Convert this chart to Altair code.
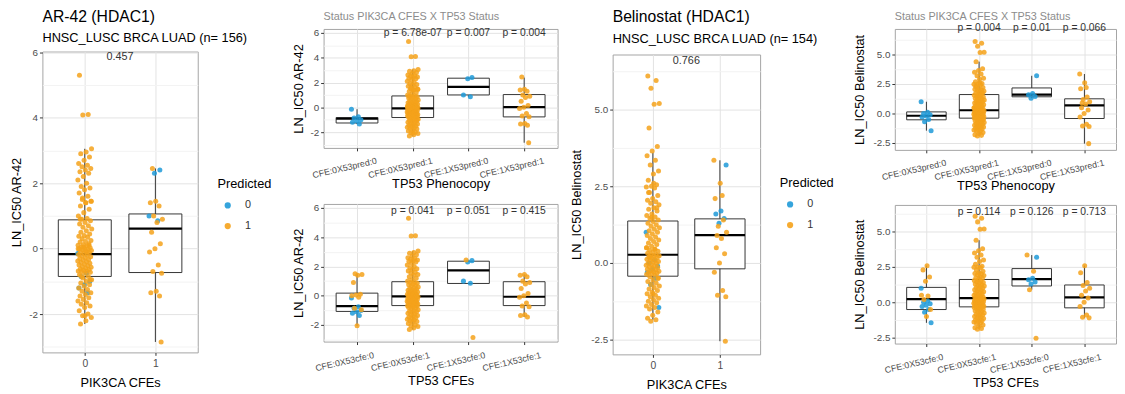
import json
import altair as alt
import pandas as pd

FONT = "Liberation Sans"
BLUE = "#1f9ad8"
ORANGE = "#f5a21b"

# ---------------- AR-42 LN_IC50 per sample, split by PIK3CA CFE / TP53 predicted / TP53 CFE
ar42_p0_pred0_cfe0 = [-0.15, -0.75, -0.85, -1.0, -1.1, -1.2, -1.35]
ar42_p0_pred1_cfe0 = [1.5, 1.45, 1.4, 0.9, 0.1, 0.05, 0.0, -0.1, -0.85, -0.95, -2.05]
ar42_p0_pred1_cfe1 = [
    5.3, 4.1, 4.08, 3.05, 2.95, 2.9, 2.8, 2.7, 2.6, 2.55, 2.5, 2.45, 2.4, 2.35, 2.3,
    2.2, 2.1, 2.0, 1.9, 1.85, 1.8, 1.7, 1.6, 1.55, 1.45, 1.4, 1.3, 1.2, 1.1, 1.0,
    0.92, 0.9, 0.85, 0.8, 0.75, 0.7, 0.65, 0.6, 0.55, 0.5, 0.45, 0.4, 0.38, 0.35,
    0.3, 0.25, 0.22, 0.2, 0.15, 0.12, 0.1, 0.08, 0.05, 0.03, 0.0, -0.01, -0.02, -0.04,
    -0.06, -0.08, -0.1, -0.12, -0.15, -0.18, -0.2, -0.22, -0.25, -0.28, -0.3, -0.33,
    -0.35, -0.38, -0.4, -0.42, -0.45, -0.48, -0.5, -0.52, -0.55, -0.57, -0.6, -0.62,
    -0.64, -0.66, -0.68, -0.69, -0.7,
    -0.72, -0.75, -0.8, -0.85, -0.9, -0.95, -1.0, -1.05, -1.1, -1.15, -1.2, -1.25,
    -1.3, -1.35, -1.4, -1.45, -1.5, -1.55, -1.6, -1.65, -1.7, -1.75, -1.8, -1.9,
    -2.0, -2.05, -2.1, -2.2, -2.3,
]
ar42_p1_pred0_cfe0 = [2.4, 2.3, 1.0, 0.85]
ar42_p1_pred1_cfe0 = [2.45, -2.85]
ar42_p1_pred1_cfe1 = [1.45, 1.4, 1.3, 1.0, 0.9, 0.8, 0.5, 0.15, 0.0, -0.1, -0.5,
                      -0.7, -0.75, -1.3, -1.35, -1.45]

# ---------------- Belinostat LN_IC50 per sample
bel_p0_pred0_cfe0 = [1.0, 0.1, 0.0, -0.1, -0.2, -0.3, -0.5, -0.7, -1.45]
bel_p0_pred1_cfe0 = [2.6, 2.3, 1.8, 1.5, 0.5, 0.45, 0.2, -0.5, -1.0]
bel_p0_pred1_cfe1 = [
    6.1, 5.95, 5.7, 5.2, 5.18, 4.4, 3.8, 3.65, 3.5, 3.35, 3.2, 3.0, 2.9, 2.7, 2.55,
    2.5, 2.48, 2.45, 2.3, 2.2, 2.1, 2.05, 2.0, 1.95, 1.9, 1.8, 1.75, 1.7,
    1.6, 1.55, 1.5, 1.45, 1.4, 1.35, 1.3, 1.25, 1.2, 1.15, 1.1, 1.05, 1.0, 0.95,
    0.9, 0.85, 0.8, 0.75, 0.7, 0.65, 0.6, 0.55, 0.5, 0.45, 0.42, 0.38, 0.35, 0.32,
    0.28, 0.26, 0.24, 0.22, 0.2, 0.18, 0.15, 0.12, 0.1, 0.08, 0.05, 0.03, 0.0,
    -0.02, -0.05, -0.07, -0.1, -0.12, -0.15, -0.17, -0.2, -0.22, -0.25, -0.27,
    -0.29, -0.31, -0.33, -0.34,
    -0.37, -0.4, -0.45, -0.5, -0.55, -0.6, -0.65, -0.7, -0.75, -0.8, -0.85, -0.9,
    -0.95, -1.0, -1.05, -1.1, -1.15, -1.2, -1.25, -1.3, -1.35, -1.4, -1.45, -1.5,
    -1.6, -1.7, -1.8, -1.85, -1.9,
]
bel_p1_pred0_cfe0 = [3.2, 1.7, 1.6, 1.45, 1.3]
bel_p1_pred1_cfe0 = [3.35, 2.2, 0.9, -2.55]
bel_p1_pred1_cfe1 = [2.6, 2.1, 1.4, 1.2, 1.0, 0.8, 0.5, 0.3, 0.0, -0.3, -0.9, -1.05, -1.1]

# ---------------- box statistics: [low whisker, q1, median, q3, high whisker]
ar42_box_pik = [[-2.3, -0.85, -0.17, 0.88, 3.05], [-2.85, -0.73, 0.61, 1.06, 2.45]]
ar42_box_pred = [[-1.35, -1.26, -0.92, -0.82, -0.15], [-2.3, -0.82, -0.08, 0.92, 3.05],
                 [0.85, 1.0, 1.65, 2.35, 2.4], [-2.85, -0.77, 0.02, 1.03, 2.4]]
ar42_box_cfe = [[-2.05, -1.07, -0.71, 0.18, 1.5], [-2.3, -0.67, -0.04, 0.96, 3.05],
                [0.85, 0.84, 1.73, 2.36, 2.4], [-1.45, -0.67, -0.07, 0.96, 1.45]]
bel_box_pik = [[-1.85, -0.43, 0.27, 1.37, 3.6], [-2.55, -0.19, 0.91, 1.44, 3.35]]
bel_box_pred = [[-1.45, -0.53, -0.19, 0.14, 1.0], [-1.9, -0.39, 0.28, 1.61, 4.4],
                [1.3, 1.42, 1.61, 2.17, 3.2], [-2.55, -0.42, 0.69, 1.25, 3.35]]
bel_box_cfe = [[-1.45, -0.51, 0.23, 1.06, 2.6], [-1.9, -0.32, 0.3, 1.62, 4.4],
               [0.9, 1.16, 1.64, 2.39, 3.35], [-1.1, -0.39, 0.35, 1.23, 2.6]]

# ---------------- labels
pik_labels = ["0", "1"]
pred_labels = ["CFE:0X53pred:0", "CFE:0X53pred:1", "CFE:1X53pred:0", "CFE:1X53pred:1"]
cfe_labels = ["CFE:0X53cfe:0", "CFE:0X53cfe:1", "CFE:1X53cfe:0", "CFE:1X53cfe:1"]
ar42_p_pik = ["0.457"]
ar42_p_pred = ["p = 6.78e-07", "p = 0.007", "p = 0.004"]
ar42_p_cfe = ["p = 0.041", "p = 0.051", "p = 0.415"]
bel_p_pik = ["0.766"]
bel_p_pred = ["p = 0.004", "p = 0.01", "p = 0.066"]
bel_p_cfe = ["p = 0.114", "p = 0.126", "p = 0.713"]


def samples(groups):
    rows = []
    for (p, pr, c), vals in groups:
        for v in vals:
            rows.append({"v": v, "pik": p, "pred": str(pr), "cfe": c})
    df = pd.DataFrame(rows)
    df["k"] = range(len(df))
    df["x_pik"] = df["pik"] + 1
    df["x_pred"] = df["pik"] * 2 + df["pred"].astype(int) + 1
    df["x_cfe"] = df["pik"] * 2 + df["cfe"] + 1
    return df


ar42 = samples([((0, 0, 0), ar42_p0_pred0_cfe0), ((0, 1, 0), ar42_p0_pred1_cfe0),
                ((0, 1, 1), ar42_p0_pred1_cfe1), ((1, 0, 0), ar42_p1_pred0_cfe0),
                ((1, 1, 0), ar42_p1_pred1_cfe0), ((1, 1, 1), ar42_p1_pred1_cfe1)])
bel = samples([((0, 0, 0), bel_p0_pred0_cfe0), ((0, 1, 0), bel_p0_pred1_cfe0),
               ((0, 1, 1), bel_p0_pred1_cfe1), ((1, 0, 0), bel_p1_pred0_cfe0),
               ((1, 1, 0), bel_p1_pred1_cfe0), ((1, 1, 1), bel_p1_pred1_cfe1)])

MAJ = "#e2e2e2"
MINR = "#f3f3f3"


def panel(df, xcol, labels, box, ydom, kind, ytitle, xtitle, w, h,
          notes, note_pos, note_y, title=None, legend_xy=None, xtitle_pad=None):
    n = len(labels)
    small = n > 2
    xscale = alt.Scale(domain=[0.4, n + 0.6], nice=False, zero=False)
    yscale = alt.Scale(domain=ydom, nice=False, zero=False)
    if kind == "ar":
        vals = [-3, -2, -1, 0, 1, 2, 3, 4, 5, 6]
        test = "datum.value % 2 == 0"
        lexpr = "datum.value % 2 == 0 ? toString(datum.value) : ''"
        tpad = 5
    else:
        vals = [-2.5, -1.25, 0, 1.25, 2.5, 3.75, 5, 6.25]
        test = "datum.value % 2.5 == 0"
        lexpr = ("datum.value % 2.5 == 0 ? replace(format(datum.value, '.1f'), '\u2212', '-') : ''")
        tpad = 7
    vals = [v for v in vals if ydom[0] <= v <= ydom[1]]
    yaxis = alt.Axis(values=vals, labelExpr=lexpr, title=ytitle, titleFontSize=13,
                     titleFontWeight="normal", titleColor="black", titlePadding=tpad,
                     labelFontSize=10, labelColor="#4d4d4d", labelPadding=2,
                     domain=False, tickSize=3, tickColor="#333333",
                     tickOpacity={"condition": {"test": test, "value": 1}, "value": 0},
                     gridColor={"condition": {"test": test, "value": MAJ}, "value": MINR},
                     labelOverlap=False)
    xkw = dict(values=list(range(1, n + 1)),
               labelExpr=json.dumps([""] + labels) + "[datum.value]",
               title=xtitle, titleFontSize=13, titleFontWeight="normal", titleColor="black",
               labelColor="#4d4d4d", domain=False, tickSize=3, tickColor="#333333",
               gridColor=MAJ, labelFlush=False, labelOverlap=False)
    if small:
        xkw.update(labelAngle=-13, labelAlign="center", labelBaseline="top",
                   labelOffset=-14, labelFontSize=9, labelPadding=13,
                   titlePadding=-2 if xtitle_pad is None else xtitle_pad)
    else:
        xkw.update(labelFontSize=10.5, labelPadding=3, titlePadding=8)
    xaxis = alt.Axis(**xkw)

    def X(f):
        return alt.X(f, scale=xscale, axis=xaxis)

    def Y(f):
        return alt.Y(f, scale=yscale, axis=yaxis)

    bdf = pd.DataFrame(box, columns=["lo", "q1", "med", "q3", "hi"])
    bdf["xi"] = range(1, n + 1)
    bb = alt.Chart(bdf).transform_calculate(xl="datum.xi - 0.375", xr="datum.xi + 0.375")
    whisk = bb.mark_rule(color="#333333", strokeWidth=1).encode(x=X("xi:Q"), y=Y("lo:Q"), y2="hi:Q")
    rect = bb.mark_rect(fill="white", stroke="#333333", strokeWidth=1).encode(
        x=X("xl:Q"), x2="xr:Q", y=Y("q1:Q"), y2="q3:Q")
    med = bb.mark_rule(color="black", strokeWidth=2.2).encode(x=X("xl:Q"), x2="xr:Q", y=Y("med:Q"))

    if legend_xy is not None:
        leg = alt.Legend(title="Predicted", orient="none", legendX=legend_xy[0],
                         legendY=legend_xy[1], titleFontSize=13, titleFontWeight="normal",
                         titleColor="black", titlePadding=9, labelFontSize=11,
                         labelColor="#333333", symbolType="circle", symbolSize=40,
                         symbolOffset=5, labelOffset=12, rowPadding=9,
                         symbolStrokeWidth=0, symbolOpacity=0.9)
    else:
        leg = None
    pts = alt.Chart(df).transform_calculate(
        xj=f"datum.{xcol} + ((datum.k * 0.618034) % 1 - 0.5) * 0.2"
    ).mark_circle(size=26, opacity=0.85).encode(
        x=X("xj:Q"), y=Y("v:Q"),
        color=alt.Color("pred:N", scale=alt.Scale(domain=["0", "1"], range=[BLUE, ORANGE]),
                        legend=leg))
    tdf = pd.DataFrame({"xi": note_pos, "label": notes})
    tdf["ty"] = note_y
    txt = alt.Chart(tdf).mark_text(fontSize=10.5 if small else 11, color="#333333",
                                   baseline="middle").encode(
        x=X("xi:Q"), y=Y("ty:Q"), text="label:N")
    ch = alt.layer(whisk, rect, med, pts, txt).properties(width=w, height=h)
    if title is not None:
        ch = ch.properties(title=title)
    return ch


def spacer():
    # invisible 1px element that sets the column origin level with the small panels
    return alt.Chart(pd.DataFrame({"a": [0]})).mark_point(opacity=0, size=1).encode(
        x=alt.value(0), y=alt.value(0)
    ).properties(width=1, height=1, view=alt.ViewBackground(strokeOpacity=0))


def big_title(t, s, off):
    return alt.Title(t, subtitle=s, anchor="start", frame="group", fontSize=16,
                     fontWeight="normal", color="black", subtitleFontSize=13,
                     subtitleColor="black", subtitlePadding=8, offset=off)


def small_title(off):
    return alt.Title("Status PIK3CA CFES X TP53 Status", anchor="start", frame="group",
                     fontSize=11, fontWeight="normal", color="#8c8c8c", offset=off)


p1 = panel(ar42, "x_pik", pik_labels, ar42_box_pik, [-3.17, 6.02], "ar", "LN_IC50 AR-42",
           "PIK3CA CFEs", 158, 306, ar42_p_pik, [1.5], 5.85,
           title=big_title("AR-42 (HDAC1)", "HNSC_LUSC BRCA LUAD (n= 156)", 2),
           legend_xy=[178, 129])
p2a = panel(ar42, "x_pred", pred_labels, ar42_box_pred, [-3.27, 6.32], "ar", "LN_IC50 AR-42",
            "TP53 Phenocopy", 238, 121, ar42_p_pred, [2, 3, 4], 5.95, title=small_title(6))
p2b = panel(ar42, "x_cfe", cfe_labels, ar42_box_cfe, [-3.13, 6.27], "ar", "LN_IC50 AR-42",
            "TP53 CFEs", 238, 140, ar42_p_cfe, [2, 3, 4], 5.8, xtitle_pad=2)
p3 = panel(bel, "x_pik", pik_labels, bel_box_pik, [-2.98, 6.8], "bel", "LN_IC50 Belinostat",
           "PIK3CA CFEs", 150, 305, bel_p_pik, [1.5], 6.6,
           title=big_title("Belinostat (HDAC1)", "HNSC_LUSC BRCA LUAD (n= 154)", 9),
           legend_xy=[170, 125])
p4a = panel(bel, "x_pred", pred_labels, bel_box_pred, [-3.08, 7.17], "bel", "LN_IC50 Belinostat",
            "TP53 Phenocopy", 225, 123, bel_p_pred, [2, 3, 4], 7.25, title=small_title(1))
p4b = panel(bel, "x_cfe", cfe_labels, bel_box_cfe, [-2.92, 6.9], "bel", "LN_IC50 Belinostat",
            "TP53 CFEs", 225, 141, bel_p_cfe, [2, 3, 4], 6.39, xtitle_pad=2)

c1 = alt.vconcat(spacer(), p1, spacing=-22).resolve_scale(color="independent")
c3 = alt.vconcat(spacer(), p3, spacing=-22).resolve_scale(color="independent")
v2 = alt.vconcat(p2a, p2b, spacing=11).resolve_scale(color="independent")
v4 = alt.vconcat(p4a, p4b, spacing=11).resolve_scale(color="independent")
left = alt.hconcat(c1, v2, spacing=19).resolve_scale(color="independent")
right = alt.hconcat(c3, v4, spacing=18).resolve_scale(color="independent")
chart = alt.hconcat(left, right, spacing=12).resolve_scale(color="independent").properties(
    padding={"left": 2, "top": -3, "right": 0, "bottom": 0}, background="white"
).configure(font=FONT).configure_view(stroke="#a3a3a3", strokeWidth=1)

chart.save("out.html", embed_options={"renderer": "svg", "actions": False})
